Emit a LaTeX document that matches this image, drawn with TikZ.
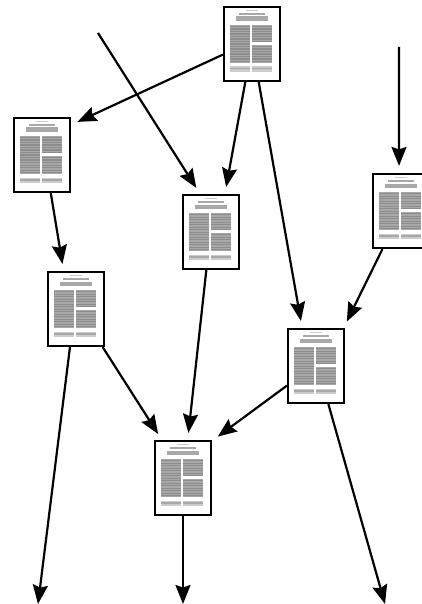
\documentclass[tikz,border=0pt]{standalone}
\definecolor{inkdark}{gray}{0.55}
\definecolor{inkmid}{gray}{0.66}
\definecolor{inklight}{gray}{0.8}
\usetikzlibrary{arrows.meta}

\tikzset{
  paper/.style={draw, line width=2.2pt, fill=white, inner sep=0pt, minimum width=56pt, minimum height=74pt,
    path picture={
      % printed page: title, two columns, footer
      \begin{scope}[shift={(path picture bounding box.center)}]
        \fill[inklight] (-6,-34) rectangle (6,-32.8);
        \fill[inkmid] (-13,-30.8) rectangle (13,-29);
        \fill[inkmid] (-16,-27.5) rectangle (16,-23);
        \fill[inkmid] (-22,-19) rectangle (-2,19);
        \foreach \ypos in {-18,-15.5,...,18} {
          \fill[inkdark] (-22,\ypos) rectangle (-2,\ypos+1.2);
        }
        \fill[inkmid] (0,-19) rectangle (20,-3);
        \fill[inkmid] (0,1) rectangle (20,19);
        \foreach \ypos in {-18,-15.5,...,-3,2,4.5,...,18} {
          \fill[inkdark] (0,\ypos) rectangle (20,\ypos+1.2);
        }
        \fill[inklight] (-22,22.5) rectangle (-2,28);
        \fill[inklight] (0,22.5) rectangle (20,28);
        \fill[inkmid] (-22,24) rectangle (-2,25.5);
        \fill[inkmid] (0,24) rectangle (20,25.5);
      \end{scope}
    }},
  link/.style={-{Stealth[length=19pt, width=15pt, inset=2.5pt]}, line width=2.2pt, shorten >=7pt},
  loose/.style={shorten >=0pt}
}

\begin{document}
\begin{tikzpicture}[x=1pt, y=-1pt]
  \useasboundingbox (0,0) rectangle (421,604);
  \node[paper] (top) at (252,44) {};
  \node[paper] (left) at (42,155) {};
  \node[paper] (mid) at (211,232) {};
  \node[paper] (right) at (401,211) {};
  \node[paper] (second) at (76,309) {};
  \node[paper] (third) at (316,366) {};
  \node[paper] (bottom) at (183,478) {};
  \coordinate (infrom) at (98,33);
  \coordinate (inright) at (399,47);
  \coordinate (outleft) at (38,604);
  \coordinate (outmid) at (183,604);
  \coordinate (outright) at (385,604);
  \draw[link] (infrom) -- (mid.106.5);
  \draw[link] (inright) -- (right.93);
  \draw[link] (top.200) -- (left.46.3);
  \draw[link] (top.260) -- (mid.70);
  \draw[link] (top.280) -- (third.110.8);
  \draw[link] (right.244.7) -- (third.54.9);
  \draw[link] (left.283) -- (second.108.7);
  \draw[link] (second.305.6) -- (bottom.119.3);
  \draw[link] (mid.263.8) -- (bottom.83);
  \draw[link] (third.214.6) -- (bottom.52.6);
  \draw[link, loose] (second.261.5) -- (outleft);
  \draw[link, loose] (bottom.south) -- (outmid);
  \draw[link, loose] (third.288.7) -- (outright);
\end{tikzpicture}
\end{document}
